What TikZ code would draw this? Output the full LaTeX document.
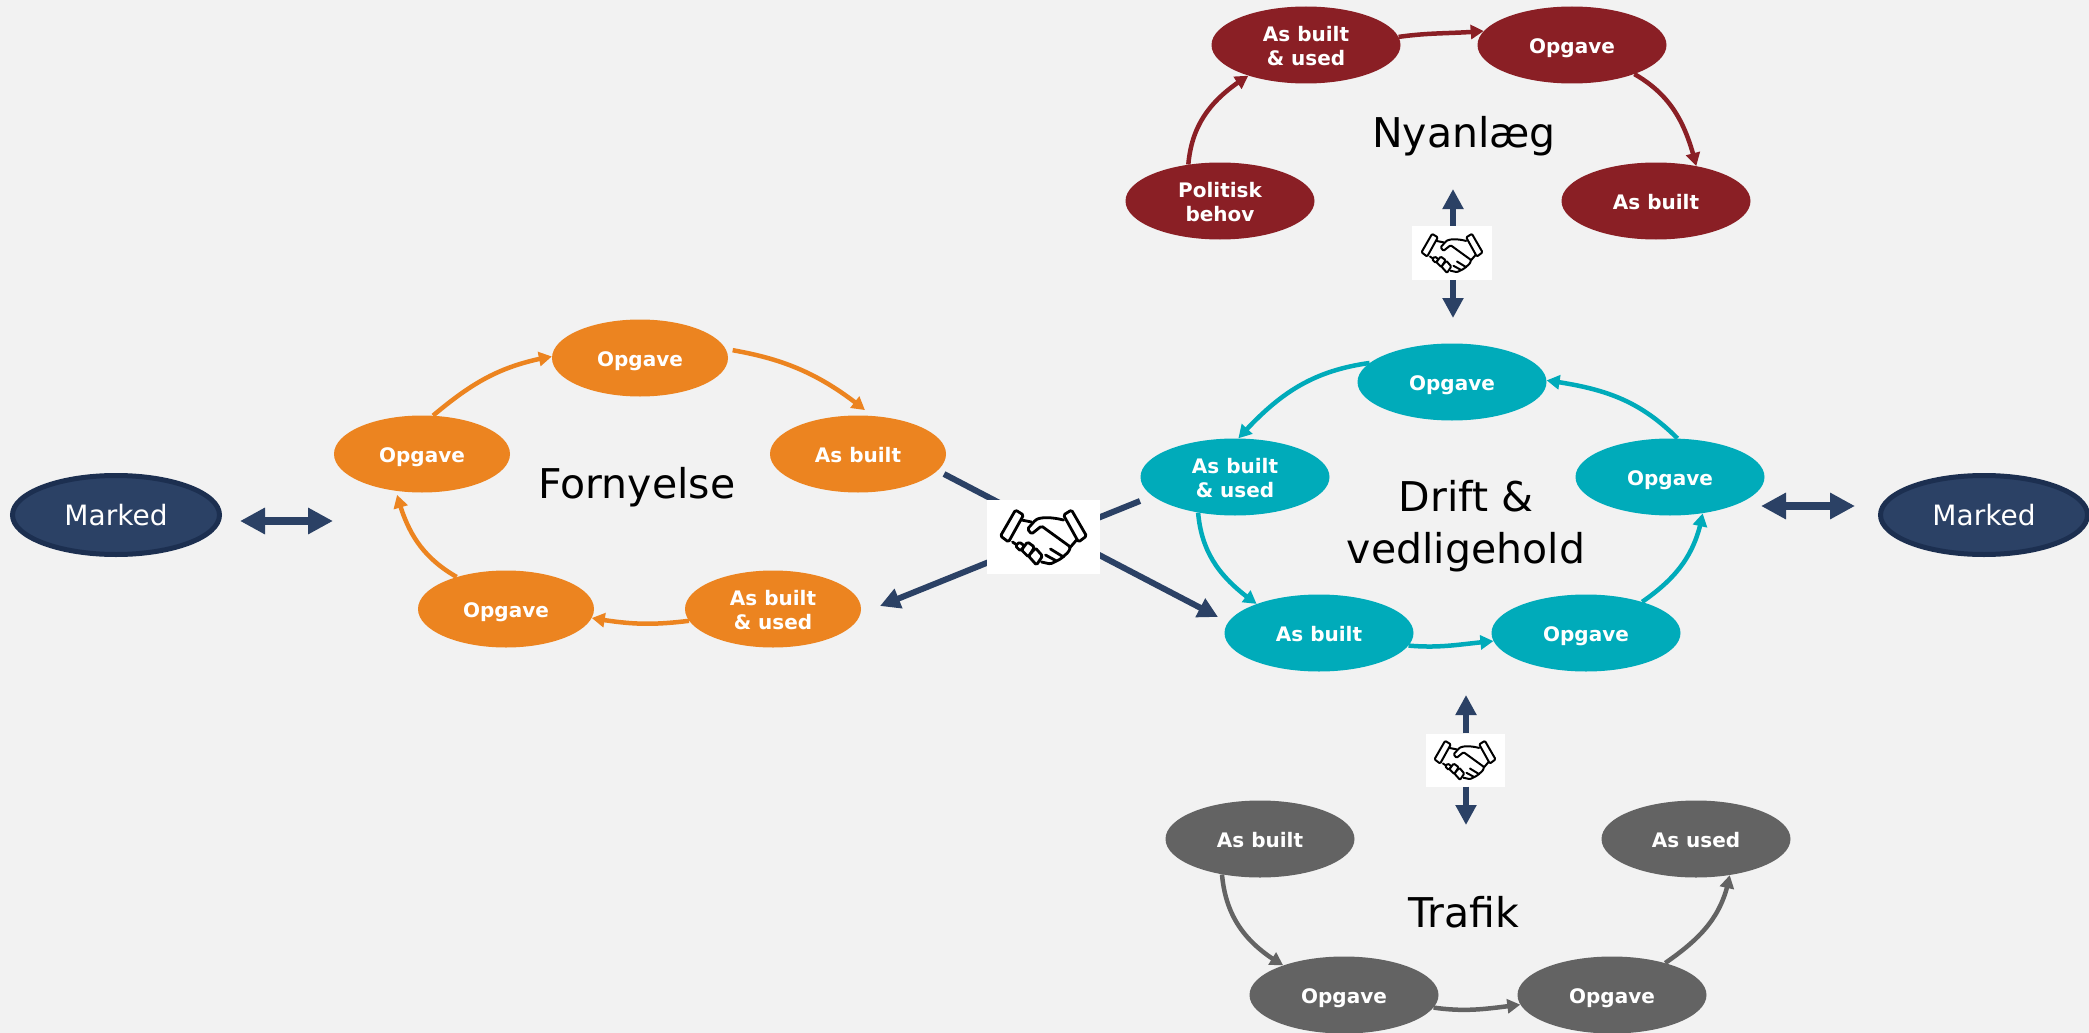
\documentclass[tikz,border=0pt]{standalone}
\usepackage{fontspec}
\setmainfont{DejaVu Sans}
\usetikzlibrary{arrows.meta,bending,shapes.geometric}
\definecolor{bgc}{HTML}{F2F2F2}
\definecolor{redc}{HTML}{8A1F25}
\definecolor{orc}{HTML}{EC8420}
\definecolor{tealc}{HTML}{00ABBA}
\definecolor{grayc}{HTML}{636363}
\definecolor{navyc}{HTML}{2B4165}
\definecolor{navyd}{HTML}{1C2F50}
\tikzset{
 el/.style={ellipse,inner sep=0pt,minimum width=189pt,minimum height=77pt,text=white,align=center,text height=41pt,font=\fontsize{20}{25}\selectfont\bfseries},
 sl/.style={text height=17.5pt,text depth=0pt},
 elo/.style={el,minimum width=176pt,fill=orc},
 elr/.style={el,fill=redc},
 elt/.style={el,fill=tealc},
 elg/.style={el,fill=grayc},
 mk/.style={ellipse,inner sep=0pt,minimum width=207pt,minimum height=79pt,fill=navyc,draw=navyd,line width=5pt,text=white,font=\fontsize{28}{32}\selectfont},
 ttl/.style={text=black,align=center,font=\fontsize{41}{52}\selectfont},
 ca/.style={line width=4.5pt,-{Triangle[width=14pt,length=13pt]}},
 hub/.style={line width=6pt,draw=navyc},
 huba/.style={hub,-{Triangle[width=20pt,length=20pt]}},
 dbl/.style={line width=8pt,draw=navyc,{Triangle[width=25pt,length=25pt]}-{Triangle[width=25pt,length=25pt]}},
 hsb/.style={fill=white,inner sep=0pt},
 pics/hands/.style={code={
  \begin{scope}[scale=#1,line width={2.8pt*#1},draw=black,line join=round,line cap=round,rounded corners={1.5pt*#1}]
   \draw (-28,-27) -- (-20,-22) -- (-35,5) -- (-43,-1) -- cycle;
   \draw (28,-27) -- (20,-22) -- (35,5) -- (43,-1) -- cycle;
   \draw (-22,-17) -- (-12,-15);
   \draw (20,-17) .. controls (8,-20) and (-2,-20) .. (-8,-17) -- (-16,-8) -- (-12,-3) -- (-2,-11) -- (27,10) -- (25,15) -- (17,22) -- (7,27) -- (-2,25);
   \draw (33,3) -- (27,10);
   \draw (7,12) -- (20,20);
   \draw (2,18) -- (13,24);
   \draw (-31,5) -- (-25,9);
   \draw[fill=white] (-28,9) -- (-24,5) -- (-19,9) -- (-23,14) -- cycle;
   \draw[fill=white] (-22,13) -- (-16,5) -- (-9,10) -- (-15,20) -- cycle;
   \draw[fill=white] (-15,19) -- (-8,11) -- (-1,19) -- (-7,28) -- cycle;
  \end{scope}}}
}
\begin{document}
\begin{tikzpicture}[x=1pt,y=-1pt]
\useasboundingbox (0,0) rectangle (2089,1033);
\fill[bgc] (0,0) rectangle (2089,1033);
% Nyanlaeg
\node[elr] (r1) at (1306,45) {As built\\[-1pt]\& used};
\node[elr,sl] (r2) at (1572,45) {Opgave};
\node[elr] (r3) at (1220,201) {Politisk\\[-1pt]behov};
\node[elr,sl] (r4) at (1656,201) {As built};
\node[ttl] (tr) at (1464,136) {Nyanlæg};
% Fornyelse
\node[elo,sl] (o1) at (422,454) {Opgave};
\node[elo,sl] (o2) at (640,358) {Opgave};
\node[elo,sl] (o3) at (858,454) {As built};
\node[elo] (o4) at (773,609) {As built\\[-1pt]\& used};
\node[elo,sl] (o5) at (506,609) {Opgave};
\node[ttl] (to) at (637,487) {Fornyelse};
% Drift
\node[elt,sl] (t1) at (1670,477) {Opgave};
\node[elt,sl] (t2) at (1452,382) {Opgave};
\node[elt] (t3) at (1235,477) {As built\\[-1pt]\& used};
\node[elt,sl] (t4) at (1319,633) {As built};
\node[elt,sl] (t5) at (1586,633) {Opgave};
\node[ttl] (tt) at (1466,526) {Drift \&\\vedligehold};
% Trafik
\node[elg,sl] (g1) at (1260,839) {As built};
\node[elg,sl] (g2) at (1696,839) {As used};
\node[elg,sl] (g3) at (1344,995) {Opgave};
\node[elg,sl] (g4) at (1612,995) {Opgave};
\node[ttl] (tg) at (1464,912) {Trafik};
% Marked
\node[mk] (m1) at (116,515) {Marked};
\node[mk] (m2) at (1984,515) {Marked};
% cycle arrows
\draw[ca,redc] (r3.131) to[out=85,in=212] (r1.208);
\draw[ca,redc] (r1.5) to[out=8,in=185] (r2.171);
\draw[ca,redc] (r2.-25) to[out=-30,in=104] (r4.41);
\draw[ca,orc] (o1.74) to[out=40,in=190] (o2.179);
\draw[ca,orc,shorten <=7pt,shorten >=9pt] (o2.6) to[out=-10,in=140] (o3.70);
\draw[ca,orc] (o4.188) to[out=187,in=-10] (o5.-6);
\draw[ca,orc,shorten >=4pt] (o5.147) to[out=150,in=-76] (o1.235);
\draw[ca,tealc] (t1.79) to[out=135,in=-8] (t2.1);
\draw[ca,tealc] (t2.167) to[out=188,in=48] (t3.85);
\draw[ca,tealc] (t3.224) to[out=-85,in=145] (t4.155);
\draw[ca,tealc] (t4.-8) to[out=-5,in=185] (t5.185);
\draw[ca,tealc] (t5.29) to[out=35,in=-100] (t1.-48);
\draw[ca,grayc] (g1.223) to[out=-85,in=150] (g3.154);
\draw[ca,grayc] (g3.-8) to[out=-8,in=187] (g4.186);
\draw[ca,grayc] (g4.31) to[out=35,in=-100] (g2.-47);
% free ends
\coordinate (a1) at (944,474);
\coordinate (a2) at (1218,617);
\coordinate (a3) at (1140,501);
\coordinate (a4) at (880,606);
\coordinate (n1) at (1453,189);
\coordinate (n2) at (1453,318);
\coordinate (s1) at (1466,695);
\coordinate (s2) at (1466,825);
\coordinate (d1) at (240,521);
\coordinate (d2) at (333,521);
\coordinate (d3) at (1761,506);
\coordinate (d4) at (1855,506);
% hubs
\draw[huba] (a1) -- (a2);
\draw[huba] (a3) -- (a4);
\node[hsb,minimum width=113pt,minimum height=74pt] (h1) at (1043.5,537) {};
\pic at (h1) {hands=1};
\node[hsb,minimum width=80pt,minimum height=54pt] (h2) at (1452,253) {};
\pic at (h2) {hands=.71};
\draw[huba] (h2.north -| n1) -- (n1);
\draw[huba] (h2.south -| n2) -- (n2);
\node[hsb,minimum width=79pt,minimum height=53pt] (h3) at (1465,760) {};
\pic at (h3) {hands=.71};
\draw[huba] (h3.north -| s1) -- (s1);
\draw[huba] (h3.south -| s2) -- (s2);
\draw[dbl] (d1) -- (d2);
\draw[dbl] (d3) -- (d4);
\end{tikzpicture}
\end{document}
